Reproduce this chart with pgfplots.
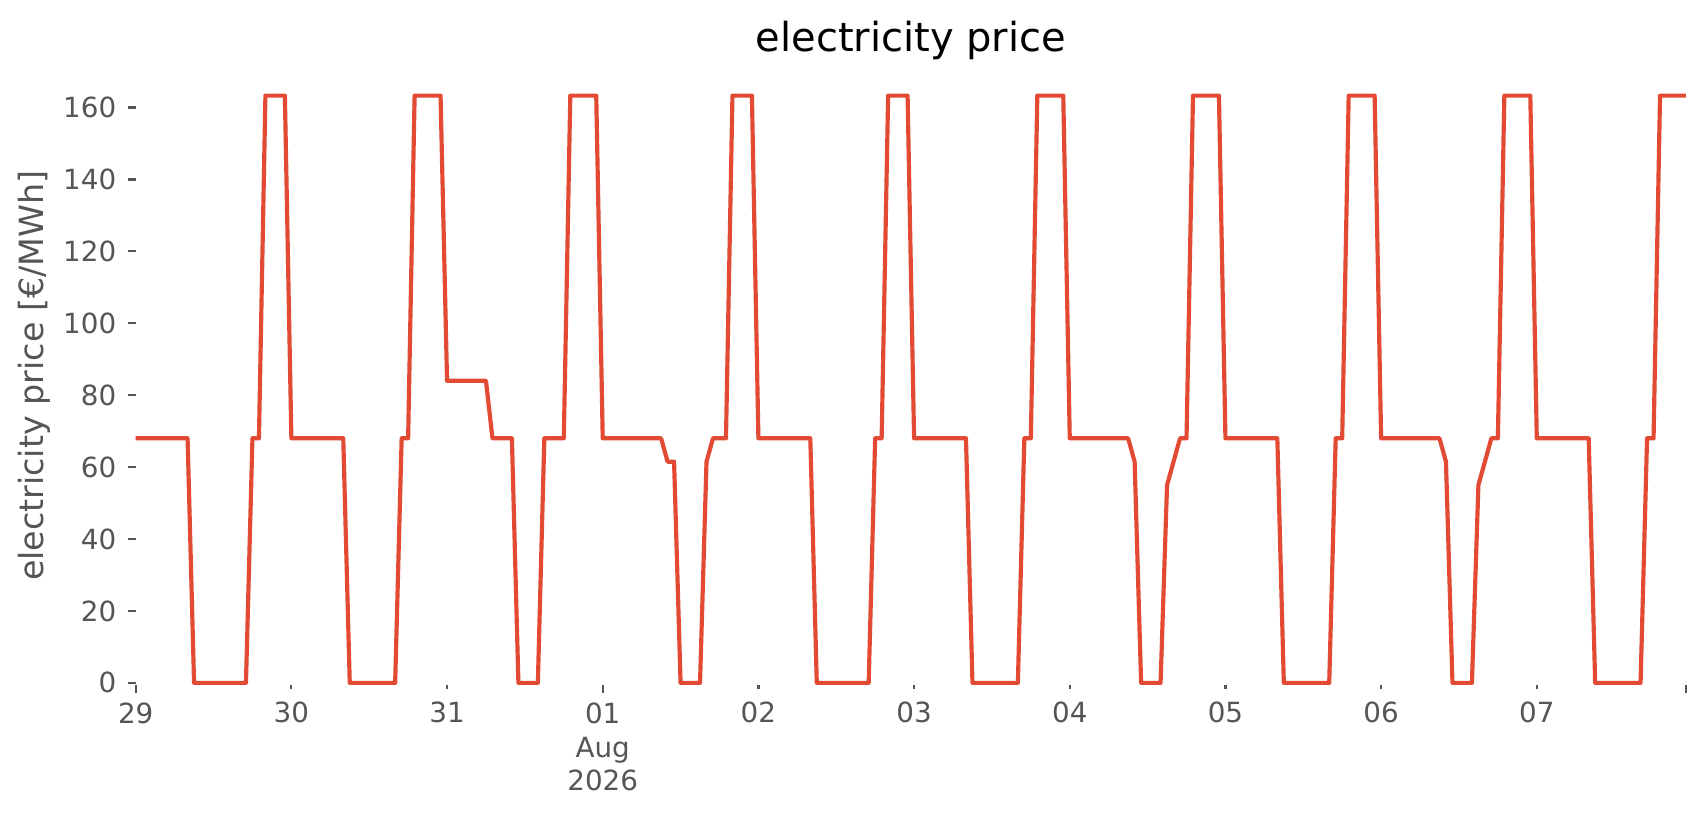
\documentclass[border=0pt]{standalone}
\usepackage{fontspec}
\setmainfont{DejaVu Sans}
\usepackage{pgfplots}
\pgfplotsset{compat=1.18}
\definecolor{linered}{HTML}{E24A33}
\definecolor{tickgrey}{HTML}{555555}
\begin{document}
\begin{tikzpicture}
\useasboundingbox (0,0) rectangle (614.16bp,293.4bp);
\begin{axis}[
  at={(48.85bp,46.8bp)}, anchor=south west,
  scale only axis, width=558.1bp, height=222.66bp,
  xmin=0, xmax=239, ymin=-0.6, ymax=171.4,
  axis line style={draw=none},
  tick align=outside, tick pos=left,
  tick style={tickgrey, line width=0.8bp},
  major tick length=2.9bp,
  xtick={0,72,239},
  xticklabels={29,{01\\Aug\\2026},{}},
  extra x ticks={24,48,96,120,144,168,192,216},
  extra x tick labels={30,31,02,03,04,05,06,07},
  extra x tick style={major tick length=1.44bp, xticklabel style={yshift=-0.8bp}},
  ytick={0,20,...,160},
  /pgf/number format/assume math mode=true,
  ticklabel style={font=\fontsize{10bp}{12bp}\selectfont, text=tickgrey, inner sep=0pt},
  xticklabel style={align=center, anchor=north, yshift=-3.5bp},
  yticklabel style={anchor=east, xshift=-3.9bp},
  ylabel={electricity price [€/MWh]},
  ylabel style={font=\fontsize{12bp}{14bp}\selectfont, text=tickgrey, at={(axis description cs:0,0.5)}, anchor=center, yshift=36.5bp, inner sep=0pt},
  title={electricity price},
  title style={font=\fontsize{14.4bp}{16bp}\selectfont, at={(axis description cs:0.5,1)}, anchor=base, yshift=-0.5bp, inner sep=0pt},
  clip=false,
]
\addplot[linered, line width=1.5bp, line join=round] coordinates {
(0,68) (8,68) (9,0) (17,0) (18,68) (19,68) (20,163.3) (23,163.3)
(24,68) (32,68) (33,0) (40,0) (41,68) (42,68) (43,163.3) (47,163.3)
(48,84) (54,84) (55,68) (58,68) (59,0) (62,0) (63,68) (66,68) (67,163.3) (71,163.3)
(72,68) (81,68) (82,61.5) (83,61.5) (84,0) (87,0) (88,61.5) (89,68) (91,68) (92,163.3) (95,163.3)
(96,68) (104,68) (105,0) (113,0) (114,68) (115,68) (116,163.3) (119,163.3)
(120,68) (128,68) (129,0) (136,0) (137,68) (138,68) (139,163.3) (143,163.3)
(144,68) (153,68) (154,61.5) (155,0) (158,0) (159,55) (160,61.5) (161,68) (162,68) (163,163.3) (167,163.3)
(168,68) (176,68) (177,0) (184,0) (185,68) (186,68) (187,163.3) (191,163.3)
(192,68) (201,68) (202,61.5) (203,0) (206,0) (207,55) (208,61.5) (209,68) (210,68) (211,163.3) (215,163.3)
(216,68) (224,68) (225,0) (232,0) (233,68) (234,68) (235,163.3) (239,163.3)
};
\end{axis}
\end{tikzpicture}
\end{document}
